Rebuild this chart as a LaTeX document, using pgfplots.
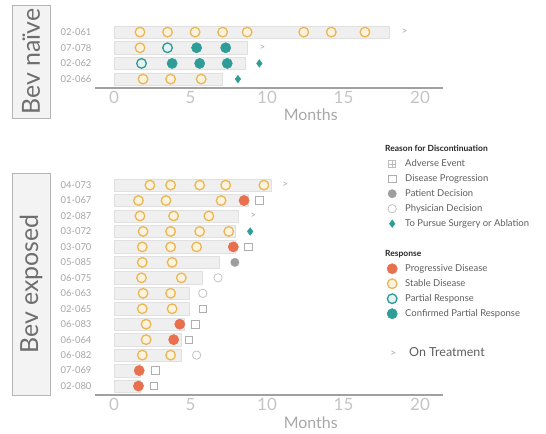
\documentclass[border=0pt]{standalone}
\usepackage{fontspec}
\setmainfont{Lato}
\usepackage{pgfplots}
\pgfplotsset{compat=1.18}
\definecolor{barfill}{HTML}{EFEFEF}
\definecolor{barline}{HTML}{E0E0E0}
\definecolor{sdline}{HTML}{E9B754}
\definecolor{sdfill}{HTML}{FDF2DE}
\definecolor{pdcol}{HTML}{E8704E}
\definecolor{prline}{HTML}{2C9A93}
\definecolor{prfill}{HTML}{E2F3F1}
\definecolor{cprcol}{HTML}{2F9D97}
\definecolor{graydot}{HTML}{9E9E9E}
\definecolor{ltgray}{HTML}{BDBDBD}
\definecolor{sqgray}{HTML}{AFAFAF}
\definecolor{ontgray}{HTML}{A8A8A8}
\definecolor{axgray}{HTML}{A0A0A0}
\definecolor{tickgray}{HTML}{C4C4C4}
\definecolor{mongray}{HTML}{A8A8A8}
\definecolor{labgray}{HTML}{A5A5A5}
\definecolor{boxfill}{HTML}{F3F3F3}
\definecolor{boxline}{HTML}{B5B5B5}
\definecolor{boxtext}{HTML}{6E6E6E}
\definecolor{leggray}{HTML}{5E5E5E}
\pgfplotsset{
  swim/.style={
    scale only axis, clip=false,
    xmin=-1.24, xmax=21.5,
    axis x line*=bottom, axis y line*=left,
    y axis line style={draw=none},
    x axis line style={draw=axgray, line width=1.4bp},
    xtick={0,5,10,15,20},
    ytick={1,...,14},
    major tick length=0pt,
    /pgf/number format/assume math mode=true,
    xticklabel style={font=\fontsize{17}{17}\selectfont, text=tickgray},
    yticklabel style={font=\fontsize{9.5}{10}\selectfont, text=labgray},
    xlabel={Months},
    xlabel style={font=\fontsize{16}{16}\selectfont, text=mongray, at={(ticklabel cs:0.62)}, anchor=north, yshift=1.5bp},
  },
  bars/.style={xbar, bar width=0.8, bar shift=0pt, fill=barfill, draw=barline, line width=0.5bp},
  sd/.style={only marks, mark=*, mark size=4.8bp, mark options={draw=sdline, fill=sdfill, line width=1.3bp}},
  pd/.style={only marks, mark=*, mark size=5.1bp, mark options={draw=pdcol, fill=pdcol, line width=0.5bp}},
  pr/.style={only marks, mark=*, mark size=4.8bp, mark options={draw=prline, fill=prfill, line width=1.3bp}},
  cpr/.style={only marks, mark=*, mark size=5.1bp, mark options={draw=cprcol, fill=cprcol, line width=0.5bp}},
  dia/.style={only marks, mark=diamond*, mark size=3.8bp, mark options={draw=cprcol, fill=cprcol}},
  sq/.style={only marks, mark=square, mark size=3.8bp, mark options={draw=sqgray, fill=white, line width=0.7bp}},
  gdot/.style={only marks, mark=*, mark size=4.2bp, mark options={draw=graydot, fill=graydot}},
  odot/.style={only marks, mark=*, mark size=4.2bp, mark options={draw=ltgray, fill=white, line width=0.7bp}},
  ont/.style={only marks, mark=text, text mark={\textcolor{ontgray}{\fontsize{10}{10}\selectfont >}}},
  legimg/.style={legend image code/.code={\path[draw=none] (0bp,0bp) -- (20bp,0bp); \path[draw=none, mark repeat=2, mark phase=2, ##1] plot coordinates {(0bp,0bp) (7bp,0bp) (14bp,0bp)};}},
  legimgup/.style={legend image code/.code={\path[draw=none] (0bp,0bp) -- (20bp,0bp); \path[draw=none, mark repeat=2, mark phase=2, ##1] plot coordinates {(0bp,7bp) (8bp,7bp) (16bp,7bp)};}},
}
\begin{document}
\begin{tikzpicture}
\useasboundingbox (0,0) rectangle (546bp,-434bp);
% side boxes
\draw[boxline, fill=boxfill, line width=0.8bp] (12bp,-5bp) rectangle (50bp,-118bp);
\node[rotate=90, font=\fontsize{25}{25}\selectfont, text=boxtext] at (31bp,-61.5bp) {Bev naïve};
\draw[boxline, fill=boxfill, line width=0.8bp] (12bp,-173bp) rectangle (50bp,-395bp);
\node[rotate=90, font=\fontsize{25}{25}\selectfont, text=boxtext] at (31bp,-284bp) {Bev exposed};

% ---------- top panel ----------
\begin{axis}[swim, at={(95bp,-88bp)}, anchor=south west,
  width=348bp, height=65.3bp, ymin=0.43, ymax=4.6,
  ytick={1,2,3,4}, yticklabels={02-066,02-062,07-078,02-061}]
\addplot[bars] coordinates {(18.0,4) (8.7,3) (8.6,2) (7.1,1)};
\addplot[sd] coordinates {(1.7,4) (3.5,4) (5.3,4) (7.1,4) (8.7,4) (12.4,4) (14.2,4) (16.4,4)
  (1.7,3) (1.9,1) (3.7,1) (5.7,1)};
\addplot[pr] coordinates {(3.5,3) (1.8,2)};
\addplot[cpr] coordinates {(5.4,3) (7.3,3) (3.8,2) (5.6,2) (7.4,2)};
\addplot[dia] coordinates {(9.5,2) (8.1,1)};
\addplot[ont] coordinates {(19.0,4) (9.7,3)};
\end{axis}

% ---------- bottom panel ----------
\begin{axis}[swim, at={(95bp,-395bp)}, anchor=south west,
  width=348bp, height=219.2bp, ymin=0.42, ymax=14.6,
  ytick={1,...,14},
  yticklabels={02-080,07-069,06-082,06-064,06-083,02-065,06-063,06-075,05-085,03-070,03-072,02-087,01-067,04-073},
  legend style={at={(axis cs:17.71,16.85)}, anchor=north west, draw=none, fill=none,
    inner sep=0pt, row sep=0pt, legend cell align=left,
    font=\fontsize{9.5}{10}\selectfont, text=leggray,
    nodes={inner sep=0pt, text height=10bp, text depth=5bp}},
]
\addplot[bars, forget plot] coordinates {(10.3,14) (8.8,13) (8.1,12) (7.9,11) (7.9,10) (6.9,9) (5.8,8)
  (4.9,7) (4.9,6) (4.6,5) (4.4,4) (4.4,3) (1.7,2) (1.7,1)};
\addplot[sd, forget plot] coordinates {(2.35,14) (3.7,14) (5.6,14) (7.3,14) (9.8,14)
  (1.6,13) (3.4,13) (7.0,13)
  (1.7,12) (3.9,12) (6.2,12)
  (1.9,11) (3.7,11) (5.6,11) (7.5,11)
  (1.85,10) (3.7,10) (5.4,10)
  (1.85,9) (3.8,9)
  (1.8,8) (4.4,8)
  (1.9,7) (3.7,7)
  (1.85,6) (3.8,6)
  (2.1,5) (2.1,4)
  (1.85,3) (3.7,3)};
\addplot[pd, forget plot] coordinates {(8.5,13) (7.8,10) (4.3,5) (3.9,4) (1.65,2) (1.6,1)};
\addplot[sq, forget plot] coordinates {(9.5,13) (8.8,10) (5.8,6) (5.3,5) (4.9,4) (2.7,2) (2.6,1)};
\addplot[gdot, forget plot] coordinates {(7.9,9)};
\addplot[odot, forget plot] coordinates {(6.8,8) (5.8,7) (5.4,3)};
\addplot[dia, forget plot] coordinates {(8.9,11)};
\addplot[ont, forget plot] coordinates {(11.2,14) (9.1,12)};
% legend
\addlegendimage{empty legend}
\addlegendentry{\hspace*{-20bp}\textcolor{black!85}{\textbf{\fontsize{8.5}{9}\selectfont Reason for Discontinuation}}}
\addlegendimage{legend image code/.code={\path[draw=none] (0bp,0bp) -- (20bp,0bp);
  \draw[ltgray, line width=0.6bp] (3.5bp,-3.5bp) rectangle (10.5bp,3.5bp);
  \draw[ltgray, line width=0.4bp] (7bp,-3.5bp) -- (7bp,3.5bp) (3.5bp,0bp) -- (10.5bp,0bp);}}
\addlegendentry{Adverse Event}
\addlegendimage{legimg, sq}
\addlegendentry{Disease Progression}
\addlegendimage{legimg, gdot}
\addlegendentry{Patient Decision}
\addlegendimage{legimg, odot}
\addlegendentry{Physician Decision}
\addlegendimage{legimg, dia}
\addlegendentry{To Pursue Surgery or Ablation}
\addlegendimage{empty legend}
\addlegendentry{\strut}
\addlegendimage{empty legend}
\addlegendentry{\hspace*{-20bp}\textcolor{black!85}{\textbf{\fontsize{8.5}{9}\selectfont Response}}}
\addlegendimage{legimg, pd}
\addlegendentry{Progressive Disease}
\addlegendimage{legimg, sd}
\addlegendentry{Stable Disease}
\addlegendimage{legimg, pr}
\addlegendentry{Partial Response}
\addlegendimage{legimg, cpr}
\addlegendentry{Confirmed Partial Response}
\addlegendimage{empty legend}
\addlegendentry{\strut}
\addlegendimage{empty legend}
\addlegendentry{\strut}
\addlegendimage{legimgup, ont}
\addlegendentry{\raisebox{7bp}{\hspace*{4bp}\fontsize{12.5}{13}\selectfont On Treatment}}
\end{axis}
\end{tikzpicture}
\end{document}
